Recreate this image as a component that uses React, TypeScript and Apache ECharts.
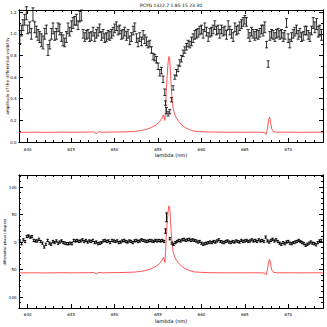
import React, { useEffect, useRef } from 'react';
import * as echarts from 'echarts';

const TITLE = 'PCYG 1322.7 1.85 15 23.30';
const X_NAME = 'lambda (nm)';
const Y_NAME_TOP = 'amplitude of the differential visibility';
const Y_NAME_BOTTOM = 'differential phase (degree)';

const X_MIN = 639;
const X_MAX = 674;
const X_MAJOR = [640, 645, 650, 655, 660, 665, 670];
const X_MINOR = [639, 641, 642, 643, 644, 646, 647, 648, 649, 651, 652, 653, 654, 656, 657, 658, 659, 661, 662, 663, 664, 666, 667, 668, 669, 671, 672, 673, 674];

const VIS_MIN = 0;
const VIS_MAX = 1.22;
const VIS_MAJOR = [0, 0.2, 0.4, 0.6, 0.8, 1.0, 1.2];
const VIS_MINOR = [0.1, 0.3, 0.5, 0.7, 0.9, 1.1];

const PHI_MIN = -120;
const PHI_MAX = 122;
const PHI_MAJOR = [-100, -50, 0, 50, 100];
const PHI_MINOR = [-120, -110, -90, -80, -70, -60, -40, -30, -20, -10, 10, 20, 30, 40, 60, 70, 80, 90, 110, 120];

// [lambda (nm), visibility amplitude, error]
const VIS_POINTS: [number, number, number][] = [
  [639.1, 0.97, 0.06], [639.3, 1.03, 0.05], [639.46, 1.08, 0.05], [639.65, 1.13, 0.05], [639.85, 1.19, 0.06],
  [640.0, 1.04, 0.04], [640.23, 1.06, 0.05], [640.42, 1.0, 0.05], [640.61, 1.18, 0.06], [640.81, 1.06, 0.05],
  [641.0, 1.02, 0.05], [641.19, 0.99, 0.05], [641.38, 0.97, 0.05], [641.57, 0.94, 0.06], [641.77, 0.92, 0.06],
  [641.96, 1.0, 0.05], [642.15, 1.04, 0.04], [642.34, 0.85, 0.05], [642.54, 0.9, 0.04], [642.73, 1.0, 0.05],
  [642.92, 1.05, 0.05], [643.11, 0.98, 0.04], [643.3, 1.0, 0.05], [643.5, 1.06, 0.04], [643.69, 1.04, 0.05],
  [643.88, 0.97, 0.04], [644.07, 0.94, 0.05], [644.26, 0.92, 0.04], [644.45, 0.97, 0.05], [644.65, 1.05, 0.05],
  [644.84, 1.02, 0.04], [645.03, 1.07, 0.05], [645.22, 1.1, 0.05], [645.41, 1.12, 0.04], [645.61, 1.13, 0.05],
  [645.8, 1.08, 0.04], [645.99, 1.16, 0.05], [646.18, 1.17, 0.05], [646.38, 1.0, 0.04], [646.57, 0.97, 0.04],
  [646.76, 0.99, 0.04], [646.95, 1.0, 0.04], [647.14, 0.97, 0.04], [647.33, 0.98, 0.04], [647.53, 1.02, 0.04],
  [647.72, 0.97, 0.04], [647.91, 1.0, 0.04], [648.1, 1.02, 0.04], [648.29, 1.05, 0.04], [648.49, 0.98, 0.04],
  [648.68, 1.0, 0.04], [648.87, 0.96, 0.04], [649.06, 0.97, 0.04], [649.26, 0.99, 0.04], [649.45, 0.98, 0.04],
  [649.64, 1.0, 0.04], [649.83, 1.02, 0.04], [650.02, 1.05, 0.04], [650.21, 1.07, 0.04], [650.41, 1.03, 0.04],
  [650.6, 1.04, 0.04], [650.79, 0.99, 0.04], [650.98, 1.0, 0.04], [651.17, 1.02, 0.04], [651.37, 0.98, 0.04],
  [651.56, 1.0, 0.04], [651.75, 0.94, 0.04], [651.94, 0.97, 0.04], [652.14, 1.03, 0.04], [652.33, 1.06, 0.04],
  [652.52, 0.96, 0.04], [652.71, 0.92, 0.04], [652.9, 0.97, 0.04], [653.1, 0.93, 0.04], [653.29, 0.99, 0.04],
  [653.48, 0.95, 0.04], [653.67, 0.93, 0.04], [653.86, 0.9, 0.03], [654.06, 0.91, 0.03], [654.25, 0.85, 0.03],
  [654.44, 0.79, 0.03], [654.63, 0.78, 0.03], [654.83, 0.76, 0.03], [655.02, 0.7, 0.03], [655.21, 0.64, 0.03],
  [655.4, 0.66, 0.03], [655.59, 0.58, 0.03], [655.78, 0.46, 0.03], [655.86, 0.36, 0.02], [655.98, 0.29, 0.03],
  [656.17, 0.26, 0.02], [656.36, 0.28, 0.02], [656.55, 0.39, 0.02], [656.74, 0.5, 0.02], [656.94, 0.6, 0.02],
  [657.13, 0.64, 0.03], [657.32, 0.68, 0.03], [657.51, 0.73, 0.03], [657.7, 0.77, 0.03], [657.9, 0.82, 0.03],
  [658.09, 0.85, 0.03], [658.28, 0.88, 0.03], [658.47, 0.91, 0.03], [658.67, 0.9, 0.03], [658.86, 0.93, 0.04],
  [659.05, 0.96, 0.04], [659.24, 0.99, 0.04], [659.43, 1.0, 0.04], [659.62, 1.01, 0.04], [659.82, 1.03, 0.04],
  [660.01, 1.04, 0.04], [660.2, 1.0, 0.04], [660.39, 1.06, 0.04], [660.58, 1.02, 0.04], [660.78, 0.97, 0.04],
  [660.97, 1.01, 0.04], [661.16, 1.02, 0.04], [661.35, 1.04, 0.04], [661.54, 1.08, 0.04], [661.74, 1.03, 0.04],
  [661.93, 1.04, 0.04], [662.12, 1.0, 0.04], [662.31, 1.04, 0.04], [662.51, 1.02, 0.04], [662.7, 1.03, 0.04],
  [662.89, 0.99, 0.04], [663.08, 1.08, 0.04], [663.27, 1.03, 0.04], [663.46, 1.0, 0.04], [663.66, 0.97, 0.04],
  [663.85, 1.06, 0.04], [664.04, 1.03, 0.04], [664.23, 1.04, 0.04], [664.42, 1.07, 0.04], [664.62, 1.09, 0.04],
  [664.81, 1.11, 0.04], [665.0, 1.13, 0.04], [665.19, 1.11, 0.04], [665.39, 1.0, 0.04], [665.58, 0.97, 0.04],
  [665.77, 1.02, 0.04], [665.96, 1.0, 0.04], [666.15, 0.98, 0.04], [666.34, 1.0, 0.04], [666.54, 0.99, 0.04],
  [666.73, 1.01, 0.04], [666.92, 1.04, 0.04], [667.11, 1.03, 0.05], [667.3, 1.06, 0.05], [667.5, 0.9, 0.03],
  [667.69, 0.72, 0.03], [667.88, 0.98, 0.04], [668.07, 1.0, 0.04], [668.26, 0.99, 0.04], [668.46, 0.97, 0.04],
  [668.65, 1.0, 0.04], [668.84, 1.01, 0.04], [669.03, 0.99, 0.04], [669.22, 1.0, 0.04], [669.42, 0.97, 0.04],
  [669.61, 0.99, 0.04], [669.8, 1.1, 0.04], [669.99, 0.96, 0.04], [670.18, 0.91, 0.04], [670.38, 0.97, 0.04],
  [670.57, 1.0, 0.04], [670.76, 1.02, 0.04], [670.95, 1.04, 0.04], [671.14, 0.99, 0.04], [671.34, 1.01, 0.04],
  [671.53, 0.97, 0.04], [671.72, 0.98, 0.04], [671.91, 1.03, 0.04], [672.1, 1.03, 0.04], [672.3, 0.99, 0.04],
  [672.49, 0.97, 0.04], [672.68, 1.03, 0.04], [672.87, 1.1, 0.05], [673.06, 1.06, 0.05], [673.26, 1.09, 0.05],
  [673.45, 1.02, 0.05], [673.64, 1.03, 0.05], [673.83, 0.99, 0.05],
];

// [lambda (nm), differential phase (deg), error]
const PHASE_POINTS: [number, number, number][] = [
  [639.1, 2, 2], [639.3, -3, 2], [639.5, 4, 2], [639.7, 1, 2], [639.9, 10, 2], [640.1, 11, 2], [640.3, 9, 2],
  [640.5, 10, 2], [640.7, 3, 2], [640.9, 2, 2], [641.1, 2, 2], [641.3, 5, 2], [641.5, 1, 2], [641.7, -2, 2],
  [641.9, -9, 2], [642.1, -4, 2], [642.3, 3, 2], [642.5, -2, 2], [642.7, -4, 2], [642.9, 1, 2], [643.1, -1, 2],
  [643.3, 2, 2], [643.5, -2, 2], [643.7, 0, 2], [643.9, 2, 2], [644.1, -1, 2], [644.3, -2, 2], [644.5, -3, 2],
  [644.7, -3, 2], [644.9, -2, 2], [645.1, -3, 2], [645.3, 3, 2], [645.5, 2, 2], [645.7, 3, 2], [645.9, 1, 2],
  [646.1, 2, 2], [646.3, 4, 2], [646.5, 1, 2], [646.7, 3, 2], [646.9, 0, 2], [647.1, 2, 2], [647.3, 1, 2],
  [647.5, 3, 2], [647.7, -1, 2], [647.9, 0, 2], [648.1, -3, 2], [648.3, -2, 2], [648.5, -1, 2], [648.7, 2, 2],
  [648.9, 3, 2], [649.1, 1, 2], [649.3, 2, 2], [649.5, -1, 2], [649.7, 3, 2], [649.9, 2, 2], [650.1, 1, 2],
  [650.3, 2, 2], [650.5, -1, 2], [650.7, 0, 2], [650.9, 2, 2], [651.1, 3, 2], [651.3, 1, 2], [651.5, 0, 2],
  [651.7, 2, 2], [651.9, 1, 2], [652.1, -1, 2], [652.3, 2, 2], [652.5, 3, 2], [652.7, 1, 2], [652.9, 2, 2],
  [653.1, 4, 2], [653.3, 3, 2], [653.5, 2, 2], [653.7, 1, 2], [653.9, 2, 2], [654.1, 3, 2], [654.3, 2, 2],
  [654.5, 1, 2], [654.7, 3, 2], [654.9, 2, 2], [655.1, 3, 2], [655.3, 2, 2], [655.5, 3, 2], [655.7, 1, 2],
  [655.86, 20, 4], [655.98, 45, 8], [656.36, 6, 2], [656.6, -2, 2], [656.8, -4, 2], [657.0, -1, 2],
  [657.2, 1, 2], [657.4, 3, 2], [657.6, 2, 2], [657.8, 4, 2], [658.0, 5, 2], [658.2, 3, 2], [658.4, 4, 2],
  [658.6, 5, 2], [658.8, 3, 2], [659.0, 4, 2], [659.2, 3, 2], [659.4, 2, 2], [659.6, 0, 2], [659.8, 1, 2],
  [660.0, -2, 2], [660.2, -4, 2], [660.4, -3, 2], [660.6, -2, 2], [660.8, -1, 2], [661.0, 0, 2], [661.2, -1, 2],
  [661.4, 1, 2], [661.6, 0, 2], [661.8, 2, 2], [662.0, 4, 2], [662.2, 1, 2], [662.4, 0, 2], [662.6, -1, 2],
  [662.8, 1, 2], [663.0, 2, 2], [663.2, 0, 2], [663.4, -1, 2], [663.6, 1, 2], [663.8, 0, 2], [664.0, 2, 2],
  [664.2, 1, 2], [664.4, 0, 2], [664.6, 3, 2], [664.8, 1, 2], [665.0, 2, 2], [665.2, 3, 2], [665.4, 1, 2],
  [665.6, 2, 2], [665.8, 4, 2], [666.0, 2, 2], [666.2, 3, 2], [666.4, 1, 2], [666.6, 4, 2], [666.8, 2, 2],
  [667.0, 3, 2], [667.2, 1, 2], [667.4, 9, 2], [667.6, 2, 2], [667.8, 0, 2], [668.0, 3, 2], [668.2, 5, 2],
  [668.4, 2, 2], [668.6, 4, 2], [668.8, 1, 2], [669.0, -2, 2], [669.2, -4, 2], [669.4, -1, 2], [669.6, -3, 2],
  [669.8, 0, 2], [670.0, 1, 2], [670.2, -2, 2], [670.4, -3, 2], [670.6, -1, 2], [670.8, 0, 2], [671.0, 1, 2],
  [671.2, 3, 2], [671.4, 1, 2], [671.6, -1, 2], [671.8, -3, 2], [672.0, -6, 2], [672.2, -4, 2], [672.4, -2, 2],
  [672.6, 0, 2], [672.8, -2, 2], [673.0, -3, 2], [673.2, -5, 2], [673.4, -1, 2], [673.6, 2, 2], [673.8, 3, 2],
];

// [lambda (nm), normalised spectrum in visibility-panel units]
const SPECTRUM: [number, number][] = [
  [639.0, 0.09], [640.0, 0.09], [641.0, 0.091], [642.0, 0.089], [643.0, 0.09], [644.0, 0.092], [645.0, 0.09],
  [646.0, 0.091], [647.0, 0.092], [647.6, 0.093], [647.9, 0.078], [648.2, 0.095], [648.6, 0.09], [649.5, 0.092],
  [650.5, 0.093], [651.5, 0.095], [652.3, 0.098], [653.0, 0.105], [653.6, 0.115], [654.1, 0.13], [654.5, 0.145],
  [654.9, 0.165], [655.2, 0.19], [655.45, 0.22], [655.62, 0.25], [655.72, 0.23], [655.8, 0.2], [655.88, 0.32],
  [655.95, 0.47], [656.05, 0.6], [656.15, 0.72], [656.25, 0.79], [656.35, 0.77], [656.45, 0.62], [656.55, 0.48],
  [656.65, 0.38], [656.75, 0.31], [656.9, 0.26], [657.1, 0.225], [657.4, 0.19], [657.7, 0.16], [658.1, 0.135],
  [658.6, 0.115], [659.2, 0.1], [660.0, 0.095], [661.0, 0.092], [662.0, 0.091], [663.0, 0.09], [664.0, 0.091],
  [665.0, 0.09], [666.0, 0.091], [667.0, 0.09], [667.3, 0.085], [667.45, 0.07], [667.6, 0.12], [667.75, 0.21],
  [667.85, 0.23], [667.95, 0.19], [668.1, 0.12], [668.3, 0.095], [668.8, 0.09], [670.0, 0.091], [671.0, 0.09],
  [672.0, 0.09], [673.0, 0.091], [674.0, 0.09],
];
// the same spectrum is overplotted on the phase panel, rescaled
const SPEC_SCALE_PHASE = 174;
const SPEC_OFFSET_PHASE = -71.7;

const FONT = 'DejaVu Sans';
const RED = '#ff2a2a';

function errorBarRender(cap: number, lw: number) {
  return (params: any, api: any) => {
    const x = api.value(0);
    const y = api.value(1);
    const e = api.value(2);
    const hi = api.coord([x, y + e]);
    const lo = api.coord([x, y - e]);
    const st = { stroke: '#000', lineWidth: lw };
    return {
      type: 'group',
      children: [
        { type: 'line', shape: { x1: hi[0], y1: hi[1], x2: lo[0], y2: lo[1] }, style: st },
        { type: 'line', shape: { x1: hi[0] - cap, y1: hi[1], x2: hi[0] + cap, y2: hi[1] }, style: st },
        { type: 'line', shape: { x1: lo[0] - cap, y1: lo[1], x2: lo[0] + cap, y2: lo[1] }, style: st },
      ],
    };
  };
}

function axis(gridIndex: number, position: string, min: number, max: number, values: number[], len: number, labels: boolean, margin: number) {
  return {
    type: 'value',
    gridIndex,
    position,
    min,
    max,
    scale: true,
    splitLine: { show: false },
    axisLine: { show: true, onZero: false, lineStyle: { color: '#000', width: 1 } },
    axisTick: { show: true, inside: true, length: len, customValues: values, lineStyle: { color: '#000', width: 1 } },
    axisLabel: {
      show: labels,
      customValues: values,
      fontSize: 4,
      fontFamily: FONT,
      color: '#000',
      margin,
      formatter: (v: number) => (Math.abs(v) < 1e-9 ? (max < 5 ? '0.0' : '0') : max < 5 ? v.toFixed(1) : String(v)),
    },
  };
}

export default function App() {
  const ref = useRef<HTMLDivElement>(null);
  useEffect(() => {
    if (!ref.current) return;
    const chart = echarts.init(ref.current, undefined, { renderer: 'svg' });
    const xAxes: any[] = [];
    const yAxes: any[] = [];
    for (let g = 0; g < 2; g++) {
      const lm = g === 0 ? 5 : 4;
      xAxes.push(axis(g, 'bottom', X_MIN, X_MAX, X_MAJOR, 4, true, lm));
      xAxes.push(axis(g, 'bottom', X_MIN, X_MAX, X_MINOR, 2, false, 0));
      xAxes.push(axis(g, 'top', X_MIN, X_MAX, X_MAJOR, 4, false, 0));
      xAxes.push(axis(g, 'top', X_MIN, X_MAX, X_MINOR, 2, false, 0));
      const ymin = g === 0 ? VIS_MIN : PHI_MIN;
      const ymax = g === 0 ? VIS_MAX : PHI_MAX;
      const maj = g === 0 ? VIS_MAJOR : PHI_MAJOR;
      const mnr = g === 0 ? VIS_MINOR : PHI_MINOR;
      yAxes.push(axis(g, 'left', ymin, ymax, maj, 4, true, 2.5));
      yAxes.push(axis(g, 'left', ymin, ymax, mnr, 2, false, 0));
      yAxes.push(axis(g, 'right', ymin, ymax, maj, 4, false, 0));
      yAxes.push(axis(g, 'right', ymin, ymax, mnr, 2, false, 0));
    }
    const phaseSpec = SPECTRUM.map(([l, v]) => [l, v * SPEC_SCALE_PHASE + SPEC_OFFSET_PHASE]);
    chart.setOption({
      animation: false,
      backgroundColor: '#fff',
      grid: [
        { left: 19, top: 10, width: 304, height: 132, containLabel: false },
        { left: 19, top: 175, width: 304, height: 133, containLabel: false },
      ],
      xAxis: xAxes,
      yAxis: yAxes,
      series: [
        {
          type: 'line', xAxisIndex: 0, yAxisIndex: 0, data: SPECTRUM, showSymbol: false, symbol: 'none',
          lineStyle: { color: RED, width: 0.8 }, z: 2,
        },
        {
          type: 'custom', xAxisIndex: 0, yAxisIndex: 0, data: VIS_POINTS, renderItem: errorBarRender(1.5, 0.8),
          encode: { x: 0, y: 1 }, z: 3,
        },
        {
          type: 'line', xAxisIndex: 4, yAxisIndex: 4, data: phaseSpec, showSymbol: false, symbol: 'none',
          lineStyle: { color: RED, width: 0.8 }, z: 2,
        },
        {
          type: 'custom', xAxisIndex: 4, yAxisIndex: 4, data: PHASE_POINTS, renderItem: errorBarRender(1.2, 1),
          encode: { x: 0, y: 1 }, z: 3,
        },
      ],
      graphic: [
        { type: 'text', x: 171, y: 5, style: { text: TITLE, fontSize: 4.5, fontFamily: FONT, fill: '#000', align: 'center', verticalAlign: 'middle' } },
        { type: 'text', x: 171, y: 155, style: { text: X_NAME, fontSize: 5, fontFamily: FONT, fill: '#000', align: 'center', verticalAlign: 'middle' } },
        { type: 'text', x: 171, y: 321, style: { text: X_NAME, fontSize: 5, fontFamily: FONT, fill: '#000', align: 'center', verticalAlign: 'middle' } },
        { type: 'text', x: 7, y: 76, rotation: Math.PI / 2, style: { text: Y_NAME_TOP, fontSize: 4.2, fontFamily: FONT, fill: '#000', align: 'center', verticalAlign: 'middle' } },
        { type: 'text', x: 5, y: 242, rotation: Math.PI / 2, style: { text: Y_NAME_BOTTOM, fontSize: 3.5, fontFamily: FONT, fill: '#000', align: 'center', verticalAlign: 'middle' } },
      ],
    });
    return () => chart.dispose();
  }, []);
  return <div ref={ref} style={{ position: 'fixed', left: 0, top: 0, width: 327, height: 327, background: '#fff' }} />;
}
